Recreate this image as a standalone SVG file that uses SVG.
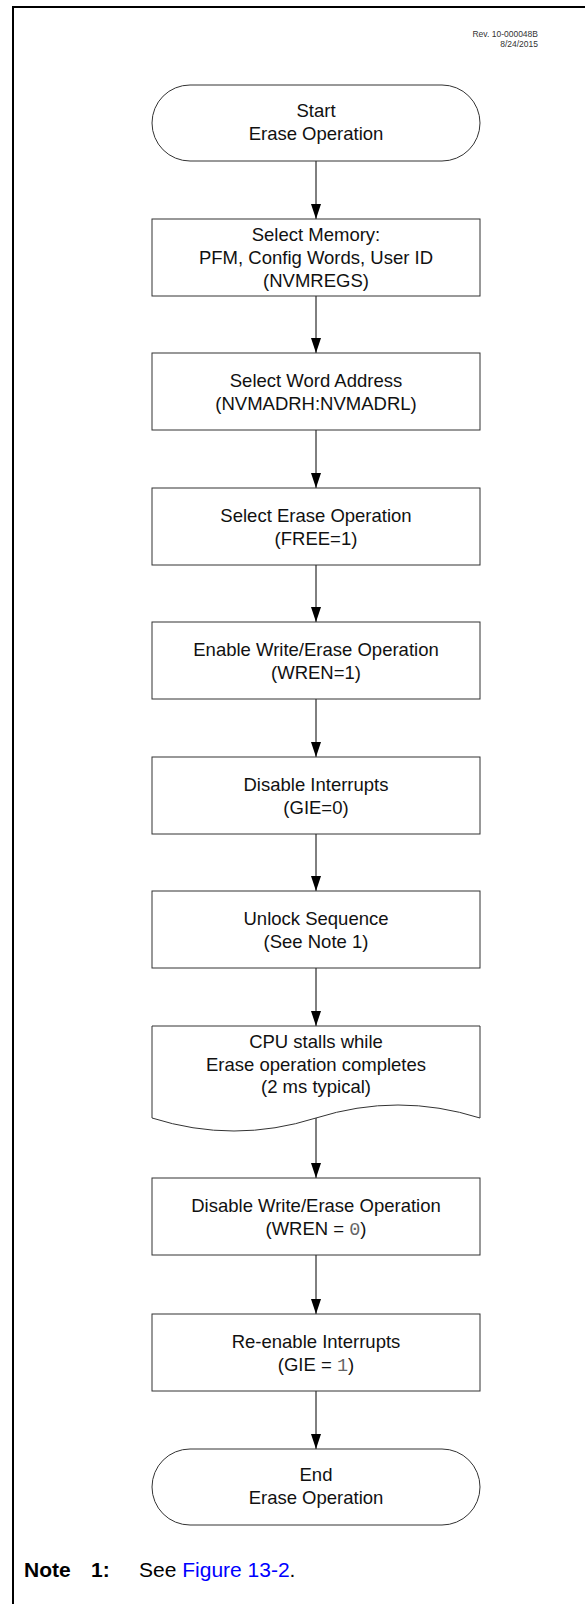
<svg xmlns="http://www.w3.org/2000/svg" width="585" height="1604" viewBox="0 0 585 1604">
<defs>
<style>
.box{fill:#fff;stroke:#333;stroke-width:1}
.t{font-family:"Liberation Sans",Arial,sans-serif;font-size:18.5px;fill:#111;text-anchor:middle}
.m{font-family:"Liberation Mono","Courier New",monospace;fill:#666}
.c{stroke:#000;stroke-width:1;fill:none}
.rev{font-family:"Liberation Sans",Arial,sans-serif;font-size:8.5px;fill:#333;text-anchor:end}
.note{font-family:"Liberation Sans",Arial,sans-serif;font-size:21px;fill:#000}
</style>
<marker id="ah" markerUnits="userSpaceOnUse" markerWidth="15" markerHeight="10" refX="15" refY="5" orient="auto">
<path d="M0,0 L15,5 L0,10 z" fill="#000"/>
</marker>
</defs>
<rect width="585" height="1604" fill="#fff"/>
<path d="M13,1604 V7 H585" fill="none" stroke="#000" stroke-width="2"/>
<text class="rev" x="538" y="37">Rev. 10-000048B</text>
<text class="rev" x="538" y="47">8/24/2015</text>

<g id="connectors">
<line class="c" x1="316" y1="161" x2="316" y2="219" marker-end="url(#ah)"/>
<line class="c" x1="316" y1="296" x2="316" y2="353" marker-end="url(#ah)"/>
<line class="c" x1="316" y1="430" x2="316" y2="488" marker-end="url(#ah)"/>
<line class="c" x1="316" y1="565" x2="316" y2="622" marker-end="url(#ah)"/>
<line class="c" x1="316" y1="699" x2="316" y2="757" marker-end="url(#ah)"/>
<line class="c" x1="316" y1="834" x2="316" y2="891" marker-end="url(#ah)"/>
<line class="c" x1="316" y1="968" x2="316" y2="1026" marker-end="url(#ah)"/>
<line class="c" x1="316" y1="1118" x2="316" y2="1178" marker-end="url(#ah)"/>
<line class="c" x1="316" y1="1255" x2="316" y2="1314" marker-end="url(#ah)"/>
<line class="c" x1="316" y1="1391" x2="316" y2="1449" marker-end="url(#ah)"/>
</g>

<g id="start">
<rect class="box" x="152" y="85" width="328" height="76" rx="38" ry="38"/>
<text class="t" x="316" y="117">Start</text>
<text class="t" x="316" y="140">Erase Operation</text>
</g>
<g id="select-memory">
<rect class="box" x="152" y="219" width="328" height="77"/>
<text class="t" x="316" y="241">Select Memory:</text>
<text class="t" x="316" y="264">PFM, Config Words, User ID</text>
<text class="t" x="316" y="287">(NVMREGS)</text>
</g>
<g id="select-address">
<rect class="box" x="152" y="353" width="328" height="77"/>
<text class="t" x="316" y="387">Select Word Address</text>
<text class="t" x="316" y="409.5">(NVMADRH:NVMADRL)</text>
</g>
<g id="select-erase">
<rect class="box" x="152" y="488" width="328" height="77"/>
<text class="t" x="316" y="522">Select Erase Operation</text>
<text class="t" x="316" y="544.5">(FREE=1)</text>
</g>
<g id="enable-write">
<rect class="box" x="152" y="622" width="328" height="77"/>
<text class="t" x="316" y="656">Enable Write/Erase Operation</text>
<text class="t" x="316" y="678.5">(WREN=1)</text>
</g>
<g id="disable-int">
<rect class="box" x="152" y="757" width="328" height="77"/>
<text class="t" x="316" y="791">Disable Interrupts</text>
<text class="t" x="316" y="813.5">(GIE=0)</text>
</g>
<g id="unlock">
<rect class="box" x="152" y="891" width="328" height="77"/>
<text class="t" x="316" y="925">Unlock Sequence</text>
<text class="t" x="316" y="947.5">(See Note 1)</text>
</g>
<g id="cpu-stall">
<path class="box" d="M152,1026 H480 V1118 Q398,1092 316,1118 Q234,1144 152,1118 Z"/>
<text class="t" x="316" y="1048">CPU stalls while</text>
<text class="t" x="316" y="1070.5">Erase operation completes</text>
<text class="t" x="316" y="1093">(2 ms typical)</text>
</g>
<g id="disable-write">
<rect class="box" x="152" y="1178" width="328" height="77"/>
<text class="t" x="316" y="1212">Disable Write/Erase Operation</text>
<text class="t" x="316" y="1234.5">(WREN = <tspan class="m">0</tspan>)</text>
</g>
<g id="reenable-int">
<rect class="box" x="152" y="1314" width="328" height="77"/>
<text class="t" x="316" y="1348">Re-enable Interrupts</text>
<text class="t" x="316" y="1370.5">(GIE = <tspan class="m">1</tspan>)</text>
</g>
<g id="end">
<rect class="box" x="152" y="1449" width="328" height="76" rx="38" ry="38"/>
<text class="t" x="316" y="1481">End</text>
<text class="t" x="316" y="1504">Erase Operation</text>
</g>

<g id="note">
<text class="note" x="24" y="1577" font-weight="bold">Note</text>
<text class="note" x="91" y="1577" font-weight="bold">1:</text>
<text class="note" x="139" y="1577">See <tspan fill="#0000ff">Figure 13-2</tspan>.</text>
</g>
</svg>
